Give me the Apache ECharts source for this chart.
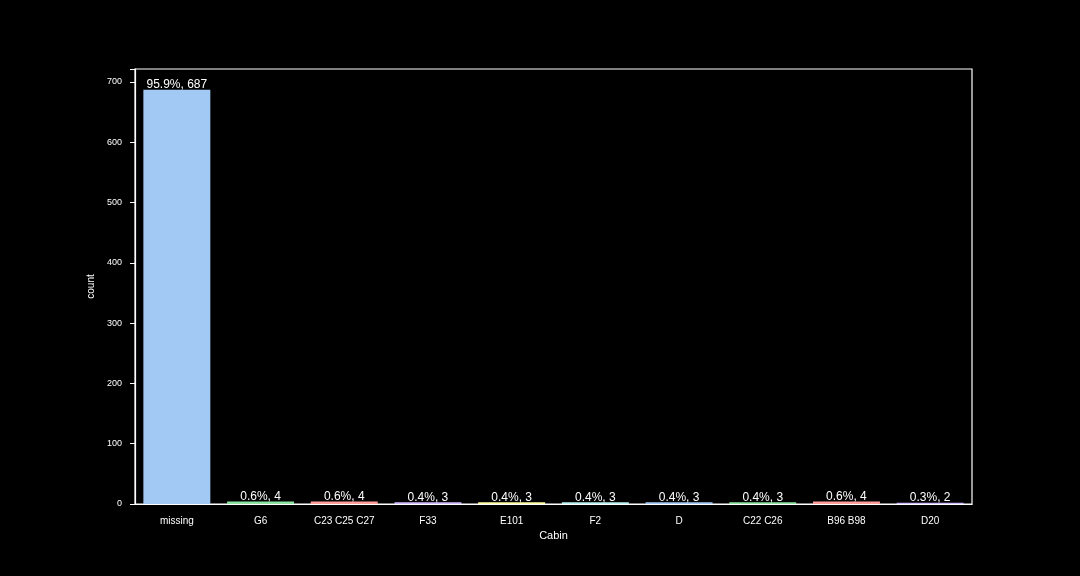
<!DOCTYPE html>
<html><head><meta charset="utf-8">
<script src="https://cdn.jsdelivr.net/npm/echarts@6/dist/echarts.min.js"></script>
<style>html,body{margin:0;padding:0;background:#000;}#c{width:1080px;height:576px;}</style>
</head><body><div id="c"></div>
<script>
const categories = ['missing','G6','C23 C25 C27','F33','E101','F2','D','C22 C26','B96 B98','D20'];
const counts = [687,4,4,3,3,3,3,3,4,2];
const percents = ['95.9%','0.6%','0.6%','0.4%','0.4%','0.4%','0.4%','0.4%','0.6%','0.3%'];
const yTicks = [0,100,200,300,400,500,600,700];
const palette = ['#a1c9f4','#8de5a1','#ff9f9b','#d0bbff','#fffea3','#b9f2f0'];

const chart = echarts.init(document.getElementById('c'));
const font = 'Liberation Sans, Arial, sans-serif';
chart.setOption({
  backgroundColor: '#000',
  animation: false,
  grid: {left: 135, right: 108, top: 69, bottom: 72, show: true, borderColor: '#fff', borderWidth: 1.2},
  xAxis: {
    type: 'category', data: categories,
    name: 'Cabin', nameLocation: 'middle', nameGap: 25,
    nameTextStyle: {color: '#fff', fontSize: 11, fontFamily: font},
    axisLine: {lineStyle: {color: '#fff', width: 1.2}},
    axisTick: {alignWithLabel: true, length: 5, lineStyle: {color: '#fff'}},
    axisLabel: {color: '#fff', fontSize: 10, fontFamily: font, margin: 12},
    splitLine: {show: false}
  },
  yAxis: {
    type: 'value', min: 0, max: 687*1.05, interval: 100,
    name: 'count', nameLocation: 'middle', nameGap: 31,
    nameTextStyle: {color: '#fff', fontSize: 10, fontFamily: font},
    axisLine: {show: true, lineStyle: {color: '#fff', width: 1.2}},
    axisTick: {show: true, length: 5, lineStyle: {color: '#fff'}},
    axisLabel: {color: '#fff', fontSize: 9, fontFamily: font, margin: 13,
      formatter: v => yTicks.includes(v) ? String(v) : ''},
    splitLine: {show: false}
  },
  series: [{
    type: 'bar', barWidth: '80%',
    data: counts.map((v, i) => ({value: v, itemStyle: {color: palette[i % palette.length]}})),
    label: {show: true, position: 'top', distance: 0, offset: [0, 1], color: '#fff', fontSize: 12, fontFamily: font,
      formatter: p => percents[p.dataIndex] + ', ' + counts[p.dataIndex]}
  }]
});
</script></body></html>
